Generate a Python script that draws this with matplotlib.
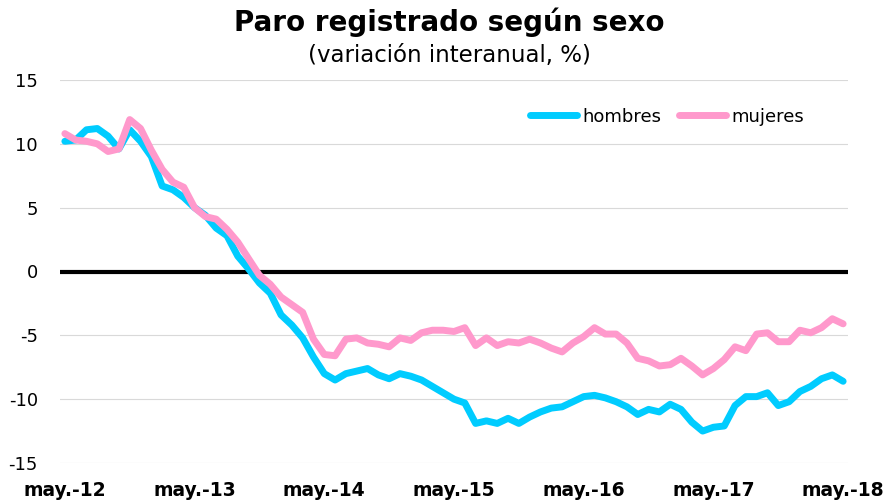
import matplotlib.pyplot as plt
import numpy as np

plt.rcParams['axes.unicode_minus'] = False

months = np.arange(73)  # may-12 .. may-18
tick_pos = [0, 12, 24, 36, 48, 60, 72]
tick_labels = ['may.-12', 'may.-13', 'may.-14', 'may.-15', 'may.-16', 'may.-17', 'may.-18']

hombres = [10.2, 10.3, 11.1, 11.2, 10.6, 9.6, 11.1, 10.2, 9.0, 6.7,
           6.4, 5.8, 5.0, 4.4, 3.4, 2.8, 1.2, 0.2, -0.9, -1.7,
           -3.4, -4.2, -5.2, -6.7, -8.0, -8.5, -8.0, -7.8, -7.6, -8.1,
           -8.4, -8.0, -8.2, -8.5, -9.0, -9.5, -10.0, -10.3, -11.9, -11.7,
           -11.9, -11.5, -11.9, -11.4, -11.0, -10.7, -10.6, -10.2, -9.8, -9.7,
           -9.9, -10.2, -10.6, -11.2, -10.8, -11.0, -10.4, -10.8, -11.8, -12.5,
           -12.2, -12.1, -10.5, -9.8, -9.8, -9.5, -10.5, -10.2, -9.4, -9.0,
           -8.4, -8.1, -8.6]

mujeres = [10.8, 10.3, 10.2, 10.0, 9.4, 9.6, 11.9, 11.2, 9.5, 8.0,
           7.0, 6.6, 5.0, 4.3, 4.1, 3.3, 2.3, 1.0, -0.3, -1.0,
           -2.0, -2.6, -3.2, -5.3, -6.5, -6.6, -5.3, -5.2, -5.6, -5.7,
           -5.9, -5.2, -5.4, -4.8, -4.6, -4.6, -4.7, -4.4, -5.8, -5.2,
           -5.8, -5.5, -5.6, -5.3, -5.6, -6.0, -6.3, -5.6, -5.1, -4.4,
           -4.9, -4.9, -5.6, -6.8, -7.0, -7.4, -7.3, -6.8, -7.4, -8.1,
           -7.6, -6.9, -5.9, -6.2, -4.9, -4.8, -5.5, -5.5, -4.6, -4.8,
           -4.4, -3.7, -4.1]

fig = plt.figure(figsize=(8.88, 5.01), dpi=100)
ax = fig.add_axes([60/888, 1 - 463/501, 788/888, 383/501])

ax.set_ylim(-15, 15)
ax.set_xlim(-0.45, 72.45)
ax.set_yticks([-15, -10, -5, 0, 5, 10, 15])
ax.grid(axis='y', color='#d9d9d9', linewidth=0.8)
ax.set_axisbelow(True)
ax.axhline(0, color='black', linewidth=3, zorder=2)

ax.plot(months, hombres, color='#00ccff', linewidth=5, solid_joinstyle='round',
        solid_capstyle='round', label='hombres', zorder=3)
ax.plot(months, mujeres, color='#ff99cc', linewidth=5, solid_joinstyle='round',
        solid_capstyle='round', label='mujeres', zorder=3)

for s in ax.spines.values():
    s.set_visible(False)
ax.tick_params(length=0)
ax.set_xticks(tick_pos)
ax.set_xticklabels(tick_labels, fontfamily='DejaVu Sans', fontweight='bold', fontsize=13.5)
ax.tick_params(axis='x', pad=13)
ax.tick_params(axis='y', pad=16)
for t in ax.get_yticklabels():
    t.set_fontfamily('DejaVu Sans')
    t.set_fontsize(13)

ax.legend(loc='upper right', bbox_to_anchor=(0.965, 0.97), ncol=2, frameon=False,
          prop={'family': 'DejaVu Sans', 'size': 13}, handlelength=2.6,
          handletextpad=0.3, columnspacing=1.0)

fig.text(0.506, 0.955, 'Paro registrado según sexo', ha='center', va='center',
         fontfamily='DejaVu Sans', fontweight='bold', fontsize=20)
fig.text(0.506, 0.889, '(variación interanual, %)', ha='center', va='center',
         fontfamily='DejaVu Sans', fontsize=16.5)

fig.savefig('out.png', dpi=100)
